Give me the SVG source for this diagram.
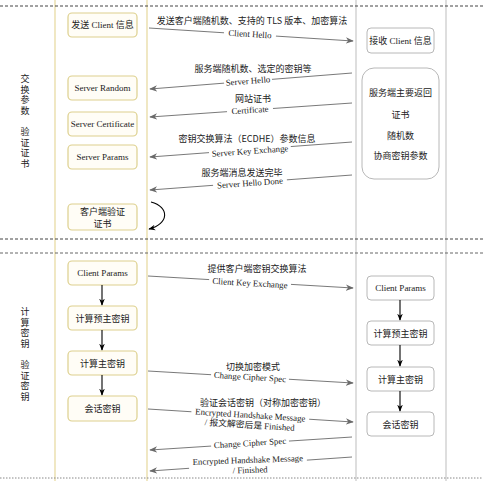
<svg xmlns="http://www.w3.org/2000/svg" width="483" height="481" viewBox="0 0 483 481">
<defs>
<style>
.t{font-family:"Liberation Serif","Noto Sans CJK SC",serif;font-size:9px;fill:#222;text-anchor:middle;dominant-baseline:central}
.c{font-family:"Noto Sans CJK SC","Liberation Sans",sans-serif;font-size:9px;fill:#222;text-anchor:middle;dominant-baseline:central}
.v{font-family:"Noto Sans CJK SC","Liberation Sans",sans-serif;font-size:9px;fill:#222;writing-mode:vertical-rl;text-anchor:start;letter-spacing:1.6px}
.ln{font-family:"Liberation Serif","Noto Sans CJK SC",serif;font-size:8.8px;fill:#222;text-anchor:middle;dominant-baseline:central}
.cn{fill:#fffdf6;stroke:#ddd08e;stroke-width:1.2}
.sn{fill:#fff;stroke:#b8b8b8;stroke-width:1}
.msg{stroke:#6a6a6a;stroke-width:0.9;fill:none;marker-end:url(#ag)}
.dn{stroke:#000;stroke-width:1.1;fill:none;marker-end:url(#ab)}
.bg{fill:#fff}
</style>
<marker id="ag" viewBox="0 0 10 10" refX="9" refY="5" markerWidth="8" markerHeight="8" markerUnits="userSpaceOnUse" orient="auto"><path d="M0,1 L10,5 L0,9 L3,5 z" fill="#6a6a6a"/></marker>
<marker id="ab" viewBox="0 0 10 10" refX="9" refY="5" markerWidth="7" markerHeight="7" markerUnits="userSpaceOnUse" orient="auto"><path d="M0,1 L10,5 L0,9 L3,5 z" fill="#000"/></marker>
</defs>
<rect width="483" height="481" fill="#fff"/>
<g id="frame">
<line x1="55" y1="0" x2="55" y2="481" stroke="#e6d89c" stroke-width="1.2"/>
<line x1="147" y1="0" x2="147" y2="481" stroke="#e6d89c" stroke-width="1.2"/>
<line x1="356" y1="0" x2="356" y2="481" stroke="#c8c8c8" stroke-width="1.2"/>
<line x1="446" y1="0" x2="446" y2="481" stroke="#c8c8c8" stroke-width="1.2"/>
<line x1="0" y1="6" x2="483" y2="6" stroke="#444" stroke-width="1" stroke-dasharray="3,2"/>
<line x1="0" y1="239" x2="483" y2="239" stroke="#444" stroke-width="1" stroke-dasharray="3,2"/>
<line x1="0" y1="253" x2="483" y2="253" stroke="#666" stroke-width="1" stroke-dasharray="3,2"/>
<line x1="0" y1="478" x2="483" y2="478" stroke="#888" stroke-width="1" stroke-dasharray="1.5,1.5"/>
</g>
<g id="phase-labels">
<text class="v" x="25" y="74">交换参数</text>
<text class="v" x="25" y="127">验证证书</text>
<text class="v" x="25" y="307">计算密钥</text>
<text class="v" x="25" y="360">验证密钥</text>
</g>
<g id="c-send"><rect class="cn" x="68" y="13" width="69" height="24" rx="4"/><text class="t" x="102.5" y="25">发送 Client 信息</text></g>
<g id="c-random"><rect class="cn" x="68" y="76" width="69" height="24" rx="4"/><text class="t" x="102.5" y="88">Server Random</text></g>
<g id="c-cert"><rect class="cn" x="68" y="112" width="69" height="24" rx="4"/><text class="t" x="102.5" y="124">Server Certificate</text></g>
<g id="c-params"><rect class="cn" x="68" y="145" width="69" height="24" rx="4"/><text class="t" x="102.5" y="157">Server Params</text></g>
<g id="c-verify"><rect class="cn" x="68" y="204" width="69" height="26" rx="4"/><text class="c" x="102.5" y="211.5">客户端验证<tspan x="102.5" dy="11.5">证书</tspan></text></g>
<g id="c-cparams"><rect class="cn" x="68" y="261" width="69" height="24" rx="4"/><text class="t" x="102.5" y="273">Client Params</text></g>
<g id="c-pms"><rect class="cn" x="68" y="306" width="69" height="24" rx="4"/><text class="c" x="102.5" y="318">计算预主密钥</text></g>
<g id="c-ms"><rect class="cn" x="68" y="351" width="69" height="24" rx="4"/><text class="c" x="102.5" y="363">计算主密钥</text></g>
<g id="c-sk"><rect class="cn" x="68" y="396" width="69" height="25" rx="4"/><text class="c" x="102.5" y="408.5">会话密钥</text></g>
<g id="s-recv"><rect class="sn" x="367" y="28" width="67" height="25" rx="4"/><text class="t" x="400.5" y="40.5">接收 Client 信息</text></g>
<g id="s-return"><rect class="sn" x="362" y="68" width="77" height="111" rx="12"/><text class="c" x="400.5" y="92">服务端主要返回</text><text class="c" x="400.5" y="114">证书</text><text class="c" x="400.5" y="135">随机数</text><text class="c" x="400.5" y="155">协商密钥参数</text></g>
<g id="s-cparams"><rect class="sn" x="367" y="276" width="67" height="24" rx="4"/><text class="t" x="400.5" y="288">Client Params</text></g>
<g id="s-pms"><rect class="sn" x="367" y="321" width="67" height="24" rx="4"/><text class="c" x="400.5" y="333">计算预主密钥</text></g>
<g id="s-ms"><rect class="sn" x="367" y="367" width="67" height="24" rx="4"/><text class="c" x="400.5" y="379">计算主密钥</text></g>
<g id="s-sk"><rect class="sn" x="367" y="412" width="67" height="24" rx="4"/><text class="c" x="400.5" y="424">会话密钥</text></g>
<g id="connectors">
<path class="dn" d="M102,285 V305"/>
<path class="dn" d="M102,330 V350"/>
<path class="dn" d="M102,375 V395"/>
<path class="dn" d="M400,300 V320"/>
<path class="dn" d="M400,345 V366"/>
<path class="dn" d="M400,391 V411"/>
<path class="dn" d="M151,202 C170,207 169,224 149,229"/>
<line class="msg" x1="149" y1="28" x2="353" y2="41"/>
<line class="msg" x1="352" y1="73" x2="150" y2="89"/>
<line class="msg" x1="352" y1="103" x2="150" y2="117"/>
<line class="msg" x1="352" y1="142" x2="150" y2="157"/>
<line class="msg" x1="352" y1="175" x2="150" y2="190"/>
<line class="msg" x1="148" y1="276" x2="353" y2="288"/>
<line class="msg" x1="148" y1="371" x2="353" y2="383"/>
<line class="msg" x1="148" y1="409" x2="353" y2="422"/>
<line class="msg" x1="352" y1="437" x2="150" y2="450"/>
<line class="msg" x1="352" y1="457" x2="150" y2="471"/>
</g>
<g id="labels">
<text class="c" x="252" y="20">发送客户端随机数、支持的 TLS 版本、加密算法</text>
<g transform="rotate(3.6 250 34)"><rect class="bg" x="224" y="29.5" width="52" height="9"/><text class="ln" x="250" y="34">Client Hello</text></g>
<text class="c" x="253" y="68">服务端随机数、选定的密钥等</text>
<g transform="rotate(-4.5 248 81)"><rect class="bg" x="224" y="76.5" width="48" height="9"/><text class="ln" x="248" y="81">Server Hello</text></g>
<text class="c" x="253" y="98">网站证书</text>
<g transform="rotate(-4 250 110)"><rect class="bg" x="227" y="105.5" width="46" height="9"/><text class="ln" x="250" y="110">Certificate</text></g>
<text class="c" x="247" y="138">密钥交换算法（ECDHE）参数信息</text>
<g transform="rotate(-4.2 250 151)"><rect class="bg" x="209" y="146.5" width="82" height="9"/><text class="ln" x="250" y="151">Server Key Exchange</text></g>
<text class="c" x="242" y="172">服务端消息发送完毕</text>
<g transform="rotate(-4.2 250 183)"><rect class="bg" x="213" y="178.5" width="74" height="9"/><text class="ln" x="250" y="183">Server Hello Done</text></g>
<text class="c" x="257" y="268">提供客户端密钥交换算法</text>
<g transform="rotate(3.4 250 283)"><rect class="bg" x="209" y="278.5" width="82" height="9"/><text class="ln" x="250" y="283">Client Key Exchange</text></g>
<text class="c" x="253" y="366">切换加密模式</text>
<g transform="rotate(3.4 250 377)"><rect class="bg" x="211" y="372.5" width="78" height="9"/><text class="ln" x="250" y="377">Change Cipher Spec</text></g>
<text class="c" x="263" y="402">验证会话密钥（对称加密密钥）</text>
<g transform="rotate(3.6 250 420)"><rect class="bg" x="191" y="410" width="118" height="20"/><text class="ln" x="250" y="415">Encrypted Handshake Message</text><text class="ln" x="250" y="425">/ 报文解密后是 Finished</text></g>
<g transform="rotate(-3.6 250 443)"><rect class="bg" x="211" y="438.5" width="78" height="9"/><text class="ln" x="250" y="443">Change Cipher Spec</text></g>
<g transform="rotate(-2 248 465)"><rect class="bg" x="189" y="455.5" width="118" height="19"/><text class="ln" x="248" y="460">Encrypted Handshake Message</text><text class="ln" x="250" y="470">/ Finished</text></g>
</g>
</svg>
